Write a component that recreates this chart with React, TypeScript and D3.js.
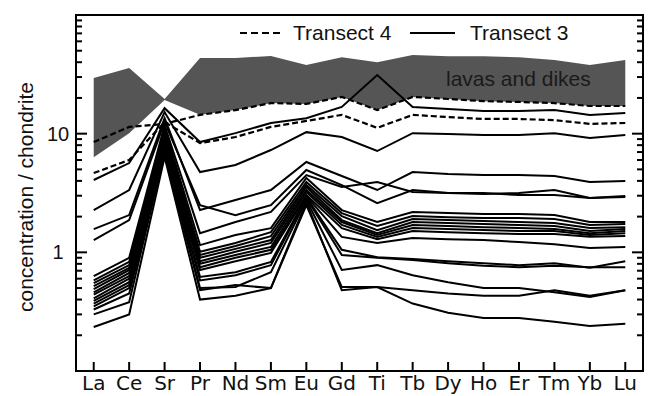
import * as d3 from "d3";

const categories = ["La", "Ce", "Sr", "Pr", "Nd", "Sm", "Eu", "Gd", "Ti", "Tb", "Dy", "Ho", "Er", "Tm", "Yb", "Lu"];

// grey field of the lavas and dikes
const lavasUpper = [29.4, 35.7, 19.6, 43.4, 43.4, 45.1, 37.9, 44, 40, 46, 45, 45, 44, 41.7, 37.9, 41.7];
const lavasLower = [6.34, 10.1, 19.2, 14.4, 15.8, 18.1, 17.8, 20.4, 15.8, 20.4, 19.6, 18.8, 18.5, 18.1, 17.1, 17.1];

// Transect 4 (dashed)
const transect4 = [
  [8.5, 11.4, 12.1, 14.4, 15.8, 18.1, 17.8, 20.4, 15.8, 20.4, 19.6, 18.8, 18.5, 18.1, 17.1, 17.1],
  [4.66, 6.0, 12.5, 8.34, 9.37, 11.4, 12.8, 14.4, 11.2, 14.4, 13.8, 13.3, 13.3, 13.0, 12.1, 12.3],
];

// Transect 3 (solid)
const transect3 = [
  [4.07, 5.65, 16.4, 8.5, 10.1, 12.3, 13.5, 16.8, 31.2, 16.8, 16.1, 15.5, 15.5, 15.8, 14.4, 14.9],
  [2.27, 3.35, 15.2, 4.75, 5.44, 7.28, 10.3, 9.37, 7.14, 10.1, 9.93, 9.74, 9.74, 10.1, 9.19, 9.74],
  [1.57, 2.06, 13.5, 2.27, 2.76, 3.35, 5.77, 4.4, 3.35, 4.75, 4.57, 4.48, 4.48, 4.4, 3.91, 3.99],
  [1.27, 1.87, 12.5, 2.5, 2.06, 2.5, 4.94, 3.69, 2.6, 3.35, 3.16, 3.1, 3.16, 3.35, 2.87, 2.98],
  [0.63, 0.9, 11.8, 1.45, 1.8, 2.19, 4.48, 3.55, 3.91, 3.22, 3.16, 3.16, 3.04, 3.04, 2.87, 2.92],
  [0.58, 0.83, 11.2, 1.15, 1.4, 1.6, 4.23, 2.27, 1.8, 2.19, 2.14, 2.1, 2.1, 2.06, 1.8, 1.8],
  [0.55, 0.78, 10.7, 1.01, 1.2, 1.48, 3.91, 2.14, 1.67, 2.02, 1.98, 1.95, 1.95, 1.91, 1.7, 1.73],
  [0.52, 0.74, 10.1, 0.95, 1.13, 1.37, 3.69, 2.02, 1.54, 1.91, 1.87, 1.84, 1.8, 1.77, 1.6, 1.63],
  [0.49, 0.71, 9.74, 0.9, 1.07, 1.27, 3.55, 1.87, 1.45, 1.8, 1.77, 1.73, 1.7, 1.67, 1.51, 1.57],
  [0.46, 0.67, 9.37, 0.84, 1.01, 1.2, 3.35, 1.8, 1.4, 1.7, 1.67, 1.63, 1.6, 1.57, 1.45, 1.51],
  [0.44, 0.63, 8.84, 0.8, 0.95, 1.11, 3.22, 1.7, 1.35, 1.6, 1.57, 1.54, 1.51, 1.51, 1.4, 1.45],
  [0.41, 0.6, 8.34, 0.75, 0.9, 1.05, 3.04, 1.6, 1.29, 1.51, 1.48, 1.45, 1.43, 1.43, 1.35, 1.37],
  [0.39, 0.56, 7.87, 0.71, 0.84, 0.99, 2.98, 1.35, 1.2, 1.32, 1.29, 1.27, 1.22, 1.17, 1.09, 1.11],
  [0.37, 0.53, 7.57, 0.62, 0.68, 0.83, 2.92, 1.05, 0.91, 0.88, 0.84, 0.81, 0.78, 0.81, 0.74, 0.84],
  [0.35, 0.5, 7.28, 0.58, 0.64, 0.78, 2.87, 0.95, 0.9, 0.86, 0.81, 0.77, 0.75, 0.77, 0.75, 0.75],
  [0.3, 0.38, 7.0, 0.5, 0.51, 0.68, 2.76, 0.71, 0.78, 0.64, 0.56, 0.5, 0.5, 0.46, 0.42, 0.48],
  [0.235, 0.3, 6.35, 0.4, 0.43, 0.5, 2.5, 0.51, 0.51, 0.48, 0.45, 0.43, 0.43, 0.48, 0.43, 0.48],
  [0.33, 0.45, 6.73, 0.48, 0.53, 0.5, 2.65, 0.48, 0.51, 0.37, 0.31, 0.28, 0.28, 0.26, 0.24, 0.25],
];

const majorTicks = [1, 10];
const tickLabels = ["1", "10"];

const width = 649;
const height = 396;
const margin = { top: 15, right: 6, bottom: 25, left: 76 };

export default function App() {
  const x = d3
    .scalePoint<string>()
    .domain(categories)
    .range([margin.left, width - margin.right])
    .padding(0.5);
  const y = d3
    .scaleLog()
    .domain([0.1, 100])
    .range([height - margin.bottom, margin.top]);

  const line = d3
    .line<number>()
    .x((_, i) => x(categories[i])!)
    .y((d) => y(d));

  const band = d3
    .area<number>()
    .x((_, i) => x(categories[i])!)
    .y0((_, i) => y(lavasLower[i]))
    .y1((d) => y(d));

  // minor ticks 0.2..0.9, 2..9, 20..90
  const minorTicks: number[] = [];
  [0.1, 1, 10].forEach((dec) => d3.range(2, 10).forEach((k) => minorTicks.push(k * dec)));

  const left = margin.left;
  const right = width - margin.right;
  const bottom = height - margin.bottom;
  const sans = "'Liberation Sans', Arial, sans-serif";

  return (
    <svg width={width} height={height} style={{ display: "block", background: "#fff" }}>
      <style>{`body{margin:0}`}</style>

      <path d={band(lavasUpper) || ""} fill="#555555" stroke="none" />

      {transect3.map((s, i) => (
        <path key={"t3" + i} d={line(s) || ""} fill="none" stroke="#000" strokeWidth={2} />
      ))}
      {transect4.map((s, i) => (
        <path key={"t4" + i} d={line(s) || ""} fill="none" stroke="#000" strokeWidth={2.2} strokeDasharray="6,3" />
      ))}

      <text x={446} y={86} fontFamily={sans} fontSize={21} fill="#1a1a1a">lavas and dikes</text>

      {/* frame */}
      <rect x={left} y={margin.top} width={right - left} height={bottom - margin.top} fill="none" stroke="#000" strokeWidth={2} />

      {/* y ticks, inward on both sides */}
      {minorTicks.map((t) => (
        <g key={"mn" + t}>
          <line x1={left} x2={left + 6} y1={y(t)} y2={y(t)} stroke="#000" strokeWidth={2} />
          <line x1={right - 6} x2={right} y1={y(t)} y2={y(t)} stroke="#000" strokeWidth={2} />
        </g>
      ))}
      {majorTicks.map((t, i) => (
        <g key={"mj" + t}>
          <line x1={left} x2={left + 11} y1={y(t)} y2={y(t)} stroke="#000" strokeWidth={2} />
          <line x1={right - 11} x2={right} y1={y(t)} y2={y(t)} stroke="#000" strokeWidth={2} />
          <text x={58} y={y(t) + 7} textAnchor="middle" fontFamily={sans} fontSize={20} fill="#111">{tickLabels[i]}</text>
        </g>
      ))}

      {/* x ticks and labels */}
      {categories.map((c) => (
        <g key={c}>
          <line x1={x(c)} x2={x(c)} y1={bottom} y2={bottom - 9} stroke="#000" strokeWidth={2} />
          <text x={x(c)} y={390} textAnchor="middle" fontFamily="'DejaVu Sans', sans-serif" fontSize={20} fill="#111">{c}</text>
        </g>
      ))}

      <text transform={`translate(33,197) rotate(-90)`} textAnchor="middle" fontFamily={sans} fontSize={21} fill="#111">
        concentration / chondrite
      </text>

      {/* legend */}
      <line x1={240} x2={283} y1={33} y2={33} stroke="#000" strokeWidth={2} strokeDasharray="7,4" />
      <text x={293} y={40} fontFamily={sans} fontSize={21} fill="#111">Transect 4</text>
      <line x1={410} x2={455} y1={33} y2={33} stroke="#000" strokeWidth={2} />
      <text x={470} y={40} fontFamily={sans} fontSize={21} fill="#111">Transect 3</text>
    </svg>
  );
}
